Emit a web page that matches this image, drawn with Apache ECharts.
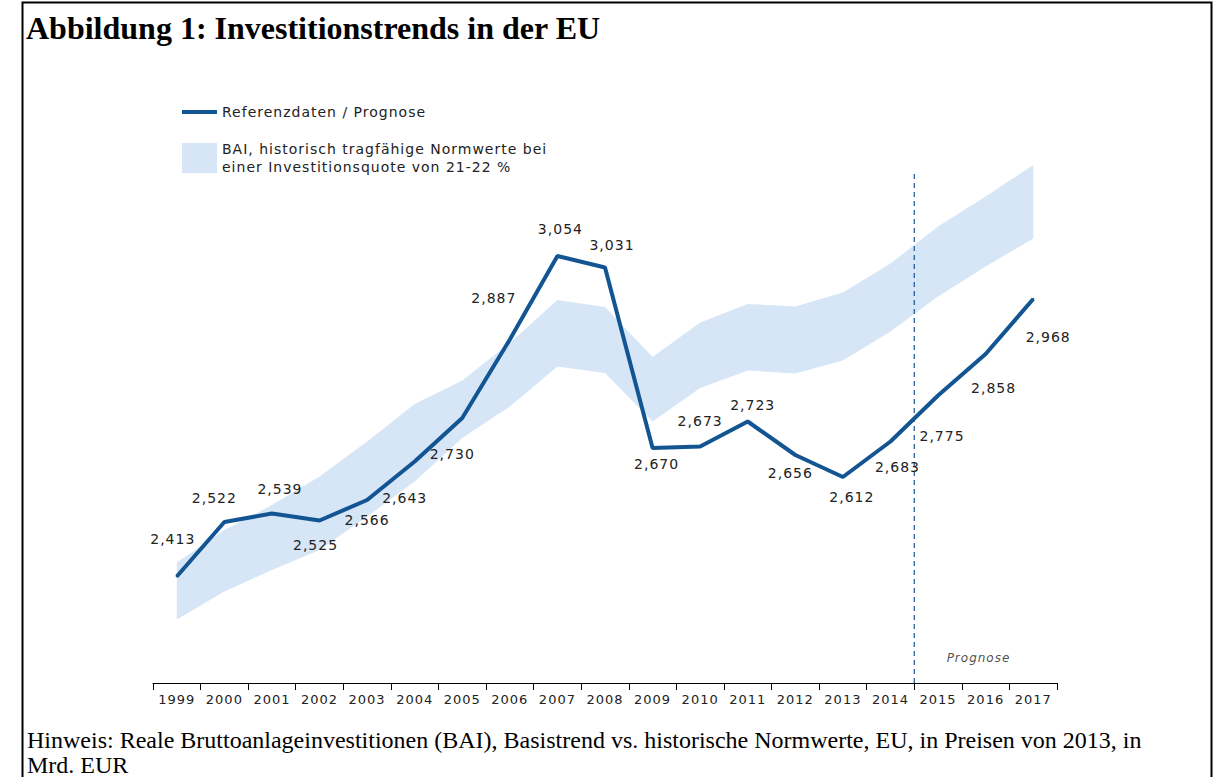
<!DOCTYPE html>
<html>
<head>
<meta charset="utf-8">
<script src="https://cdn.jsdelivr.net/npm/echarts@6/dist/echarts.min.js"></script>
<style>
html,body{margin:0;padding:0;background:#fff;}
#chart{width:1216px;height:777px;}
#chart svg text[style*="DejaVu"]{letter-spacing:1px;}
</style>
</head>
<body>
<div id="chart"></div>
<script>
// ---- data ----
const years = ['1999','2000','2001','2002','2003','2004','2005','2006','2007','2008','2009','2010','2011','2012','2013','2014','2015','2016','2017'];
const investment = [2413,2522,2539,2525,2566,2643,2730,2887,3054,3031,2670,2673,2723,2656,2612,2683,2775,2858,2968];
const bandLower = [2327,2383,2426,2466,2533,2603,2690,2753,2833,2820,2723,2790,2825,2819,2845,2903,2973,3033,3089];
const bandUpper = [2441,2506,2556,2613,2683,2758,2805,2880,2966,2952,2852,2921,2958,2953,2981,3039,3113,3173,3236];
const lineName = 'Referenzdaten / Prognose';
const bandName = 'BAI, historisch tragfähige Normwerte bei\neiner Investitionsquote von 21-22 %';
const title = 'Abbildung 1: Investitionstrends in der EU';
const note1 = 'Hinweis: Reale Bruttoanlageinvestitionen (BAI), Basistrend vs. historische Normwerte, EU, in Preisen von 2013, in';
const note2 = 'Mrd. EUR';
const forecastLabel = 'Prognose';
const forecastStart = 15.5; // boundary between 2014 and 2015 (category index)

// ---- layout (label offsets relative to points) ----
const labelOffsets = [[-4,-38],[-10,-24],[8,-25],[-4,24],[0,20],[-10,36],[-10,36],[-16,-42],[3,-27],[7,-23],
  [4,16],[0,-26],[5,-17],[-5,18],[9,20],[7,25],[4,40],[8,34],[15,38]];

const LINE = '#135493';
const BAND = '#d6e6f6';
const fmt = v => String(v).replace(/\B(?=(\d{3})+(?!\d))/g, ',');
const FONT = 'DejaVu Sans';

const bandDiff = bandUpper.map((u, i) => u - bandLower[i]);

const chart = echarts.init(document.getElementById('chart'), null, { renderer: 'svg' });
chart.setOption({
  animation: false,
  backgroundColor: '#fff',
  legend: [
    { data: [lineName], left: 182, top: 105, padding: 0, icon: 'rect', itemWidth: 35, itemHeight: 4,
      textStyle: { fontFamily: FONT, fontSize: 14, color: '#222' }, selectedMode: false },
    { data: [bandName], left: 182, top: 140, padding: 0, icon: 'rect', itemWidth: 35, itemHeight: 30,
      textStyle: { fontFamily: FONT, fontSize: 14, color: '#222', lineHeight: 18 }, selectedMode: false }
  ],
  grid: { left: 153, right: 159, top: 133, bottom: 94 },
  xAxis: [
    { type: 'category', data: years, boundaryGap: true,
      axisLine: { lineStyle: { color: '#000', width: 1 } },
      axisTick: { show: true, length: 7, lineStyle: { color: '#000' } },
      axisLabel: { fontFamily: FONT, fontSize: 13, color: '#222', margin: 10, interval: 0 },
      splitLine: { show: false } },
    { type: 'value', min: -0.5, max: 18.5, show: false }
  ],
  yAxis: { type: 'value', min: 2200, max: 3300, show: false, splitLine: { show: false } },
  series: [
    { type: 'line', name: 'lower', data: bandLower, stack: 'band', symbol: 'none',
      lineStyle: { opacity: 0 }, silent: true, z: 1 },
    { type: 'line', name: bandName, data: bandDiff, stack: 'band', symbol: 'none',
      itemStyle: { color: BAND }, lineStyle: { opacity: 0 },
      areaStyle: { color: BAND, opacity: 1 }, silent: true, z: 1 },
    { type: 'line', xAxisIndex: 1, data: [[forecastStart, 2200], [forecastStart, 3226]],
      symbol: 'none', silent: true, z: 2,
      lineStyle: { color: LINE, width: 1.2, type: [5, 4] } },
    { type: 'scatter', xAxisIndex: 1, data: [[16.85, 2250]], symbolSize: 0, silent: true,
      label: { show: true, position: 'inside', formatter: forecastLabel,
        fontFamily: FONT, fontStyle: 'italic', fontSize: 12, color: '#222' } },
    { type: 'line', name: lineName,
      data: investment.map((v, i) => ({ value: v, label: { offset: labelOffsets[i] } })),
      symbol: 'circle', symbolSize: 2, showSymbol: true, z: 3,
      itemStyle: { color: LINE }, lineStyle: { color: LINE, width: 4 },
      label: { show: true, position: 'inside', formatter: p => fmt(p.value),
        fontFamily: FONT, fontSize: 14, color: '#222' } }
  ],
  graphic: [
    { type: 'rect', shape: { x: 22.5, y: 2.5, width: 1189, height: 800 },
      style: { fill: 'none', stroke: '#000', lineWidth: 2 }, silent: true, z: 100 },
    { type: 'text', left: 26, top: 12,
      style: { text: title, font: 'bold 32px "Liberation Serif"', fill: '#000' } },
    { type: 'text', left: 27, top: 727,
      style: { text: note1 + '\n' + note2, font: '24px "Liberation Serif"', fill: '#000', lineHeight: 25 } }
  ]
});
</script>
</body>
</html>
